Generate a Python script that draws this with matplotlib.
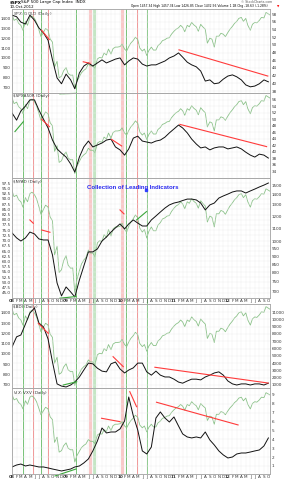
import matplotlib
matplotlib.use("Agg")
import matplotlib.pyplot as plt
import numpy as np
import pandas as pd

# S&P 500 overlay (green), 1st and 15th of each month, Jan 2008 - Oct 2012
spx = [1440, 1380, 1395, 1350, 1330, 1280, 1370, 1330, 1410, 1425, 1400, 1360,
       1285, 1215, 1260, 1298, 1280, 1192, 1160, 908, 966, 800, 816, 870,
       903, 843, 825, 827, 690, 760, 810, 850, 875, 890, 940, 920,
       920, 895, 990, 1005, 1000, 1050, 1030, 1090, 1040, 1095, 1110, 1110,
       1115, 1140, 1090, 1070, 1115, 1150, 1178, 1210, 1186, 1100, 1070, 1090,
       1025, 1075, 1110, 1080, 1080, 1125, 1145, 1175, 1185, 1200, 1205, 1240,
       1270, 1290, 1305, 1330, 1310, 1265, 1330, 1315, 1360, 1335, 1315, 1270,
       1340, 1315, 1290, 1150, 1200, 1190, 1110, 1220, 1220, 1250, 1240, 1215,
       1258, 1290, 1320, 1350, 1370, 1400, 1410, 1370, 1400, 1330, 1280, 1340,
       1360, 1355, 1380, 1410, 1405, 1460, 1445, 1432]

# indicator lines (black), one value per month start
ind_1 = [57.7, 57.3, 55.9, 55.4, 57.7, 56.4, 54.4, 53.1, 51.2, 46.1,
         41.4, 39.9, 42.4, 40.9, 38.6, 42.7, 44.5, 45.3, 44.5, 45.3,
         46.1, 45.3, 45.8, 46.3, 46.6, 44.8, 45.8, 46.6, 46.3, 45.0,
         44.5, 44.8, 44.8, 45.3, 45.8, 46.6, 47.1, 47.9, 46.8, 45.5,
         44.8, 44.3, 43.2, 40.6, 40.9, 39.9, 40.1, 41.1, 41.9, 42.2,
         41.7, 40.9, 39.6, 39.1, 39.3, 39.9, 40.9, 40.4]
ind_2 = [51.9, 49.7, 52.5, 54.0, 55.9, 55.9, 52.8, 50.0, 47.3, 43.6,
         40.9, 39.6, 38.4, 36.3, 33.8, 38.4, 41.5, 43.3, 41.5, 42.1,
         42.7, 43.6, 43.9, 41.5, 40.6, 39.0, 40.9, 44.2, 44.8, 43.3,
         43.0, 42.7, 43.3, 43.6, 44.5, 45.8, 47.0, 48.2, 47.3, 45.8,
         43.9, 42.4, 41.2, 41.5, 40.6, 41.2, 41.5, 41.5, 40.9, 41.2,
         41.5, 40.9, 39.9, 39.0, 38.4, 39.3, 39.0, 38.1]
ind_3 = [73.7, 71.3, 69.8, 71.3, 74.1, 73.2, 70.8, 70.3, 70.3, 63.1,
         49.7, 43.5, 47.8, 45.4, 43.0, 51.1, 57.8, 64.6, 64.6, 66.0,
         69.8, 71.7, 74.1, 76.1, 78.0, 75.6, 78.0, 79.9, 78.4, 77.0,
         77.0, 79.9, 81.8, 83.7, 85.6, 87.1, 88.0, 88.5, 89.2, 89.9,
         89.9, 89.5, 88.0, 84.7, 87.1, 88.0, 90.4, 91.4, 92.3, 93.3,
         93.8, 93.8, 92.8, 93.8, 94.7, 95.7, 96.6, 97.6]
ind_4 = [6200, 7600, 7850, 9350, 10850, 11550, 9500, 8950, 7300, 4150,
         1150, 850, 730, 1000, 1400, 2100, 3050, 4000, 3900, 3300,
         2900, 2800, 3900, 4150, 3200, 2650, 3050, 3350, 4000, 4000,
         2800, 2350, 2900, 2350, 2100, 2100, 1800, 1400, 1250, 1550,
         1800, 1800, 1700, 2100, 2350, 2650, 2800, 2350, 1550, 1150,
         1000, 1150, 1150, 1000, 1150, 1150, 1000, 1250]
ind_5 = [0.89, 1.11, 1.22, 1.0, 1.11, 1.0, 0.89, 0.89, 0.78, 0.66,
         0.55, 0.44, 0.55, 0.66, 0.89, 1.0, 1.34, 1.79, 2.69, 3.81,
         5.27, 4.71, 4.82, 4.82, 5.16, 6.06, 8.75, 6.62, 5.04, 2.69,
         2.35, 3.13, 6.39, 7.07, 6.39, 5.94, 6.51, 5.49, 4.60, 4.26,
         4.15, 4.26, 4.15, 4.82, 3.92, 3.36, 2.69, 2.24, 1.90, 2.01,
         2.35, 2.46, 2.46, 2.57, 2.69, 2.80, 3.25, 4.15]

legend_names = ["$SPX:$GOLD (Daily)", "$SPXA50R (Daily)", "$NYAD (Daily)",
                "$BDI (Daily)", "$VIX:$VXV (Daily)"]

# turning points marked across all panels
green_days = ["2008-03-17", "2008-07-15", "2009-03-09", "2010-02-08", "2010-07-01"]
green_band_days = ["2009-07-10"]
red_days = ["2008-05-19", "2008-08-29", "2010-04-23"]
red_band_days = ["2009-06-12", "2010-01-15"]

# hand drawn trend lines: panel, colour, start, end, start value, end value
trend_lines = [
    (0, "r", "2011-02-04", "2012-09-27", 48.7, 41.9),
    (0, "r", "2008-07-19", "2008-09-09", 53.8, 51.4),
    (0, "r", "2009-04-27", "2009-06-12", 45.6, 45.2),
    (0, "g", "2008-11-20", "2009-03-09", 37.3, 37.4),
    (1, "r", "2011-02-10", "2012-09-19", 48.4, 41.6),
    (1, "r", "2008-07-19", "2008-09-10", 50.0, 47.7),
    (1, "r", "2009-11-05", "2010-01-12", 43.8, 41.8),
    (1, "g", "2008-01-21", "2008-03-17", 46.2, 49.2),
    (2, "r", "2008-05-01", "2008-05-24", 79.9, 78.3),
    (2, "r", "2008-07-19", "2008-09-14", 75.1, 74.0),
    (2, "r", "2010-01-01", "2010-01-28", 84.7, 82.8),
    (2, "g", "2010-04-23", "2010-06-29", 79.9, 83.9),
    (2, "g", "2008-11-20", "2009-03-09", 42.4, 43.2),
    (3, "r", "2008-06-27", "2008-09-02", 9450, 8080),
    (3, "r", "2009-11-15", "2010-01-23", 4880, 3510),
    (3, "r", "2010-08-25", "2012-09-29", 3430, 1270),
    (3, "g", "2008-12-13", "2009-03-14", 1000, 1450),
    (4, "r", "2009-08-29", "2010-01-01", 6.36, 5.98),
    (4, "r", "2010-03-08", "2010-04-23", 9.35, 7.66),
    (4, "r", "2010-09-05", "2012-03-10", 8.16, 5.61),
    (4, "g", "2008-10-18", "2009-03-09", -0.12, 0.66),
]

half_dates = pd.date_range("2008-01-01", periods=len(spx), freq="SMS")
month_dates = pd.date_range("2008-01-01", periods=len(ind_1), freq="MS")
start, end = pd.Timestamp("2008-01-01"), pd.Timestamp("2012-10-12")

BLACK = "#111111"
GREEN = "#8cc28a"
RED_C = {"r": "#ff3b3b", "g": "#3aa63a"}
GRID = "#ececec"
FS = 3

W, H = 286, 480
X0, X1 = 12, 270


def box(top, bottom):
    return [X0 / W, 1 - bottom / H, (X1 - X0) / W, (bottom - top) / H]


fig = plt.figure(figsize=(W / 100, H / 100), dpi=100)

# background layer with the vertical marker lines
bg = fig.add_axes(box(9, 474), zorder=-1)
bg.set_xlim(start, end)
bg.axis("off")
for d in green_band_days:
    bg.axvline(pd.Timestamp(d), color="#c4e6c4", lw=2.2)
for d in red_band_days:
    bg.axvline(pd.Timestamp(d), color="#f9c9c9", lw=2.2)
for d in green_days:
    bg.axvline(pd.Timestamp(d), color="#62b862", lw=0.6)
for d in red_days:
    bg.axvline(pd.Timestamp(d), color="#f07070", lw=0.6)

panels = [
    dict(top=9, bottom=93, ind=ind_1, b_lim=(37.5, 59.3), b_ticks=np.arange(38, 59, 2),
         b_fmt="{:.0f}", b_side="right", g_lim=(646, 1495), g_log=False,
         g_ticks=np.arange(700, 1500, 100)),
    dict(top=93, bottom=178, ind=ind_2, b_lim=(32.0, 58.0), b_ticks=np.arange(34, 57, 2),
         b_fmt="{:.0f}", b_side="right", g_lim=(646, 1485), g_log=False, g_ticks=[]),
    dict(top=178, bottom=298, ind=ind_3, b_lim=(42.5, 100.0), b_ticks=np.arange(45, 99, 2.5),
         b_fmt="{:.1f}", b_side="left", g_lim=(666, 1578), g_log=True,
         g_ticks=[700, 750, 800, 850, 900, 950, 1000, 1100, 1200, 1300, 1400, 1500]),
    dict(top=304, bottom=388, ind=ind_4, b_lim=(589, 12097), b_ticks=np.arange(1000, 11001, 1000),
         b_fmt="{:.0f}", b_side="right", g_lim=(666, 1486), g_log=False,
         g_ticks=np.arange(700, 1500, 100)),
    dict(top=388, bottom=474, ind=ind_5, b_lim=(0.10, 9.76), b_ticks=np.arange(1, 10, 1),
         b_fmt="{:.0f}", b_side="right", g_lim=(557, 1512), g_log=False, g_ticks=[]),
]

month_ticks = pd.date_range("2008-01-01", "2012-10-01", freq="MS")
month_labels = [d.strftime("%y") if d.month == 1 else d.strftime("%b")[0] for d in month_ticks]

black_axes = []
for i, p in enumerate(panels):
    ax_g = fig.add_axes(box(p["top"], p["bottom"]))
    ax_g.patch.set_visible(False)
    ax_g.plot(half_dates, spx, color=GREEN, lw=0.6)
    if p["g_log"]:
        ax_g.set_yscale("log")
    ax_g.set_ylim(*p["g_lim"])
    ax_g.set_xlim(start, end)
    ax_g.set_yticks(p["g_ticks"])
    ax_g.set_yticklabels([f"{t:.0f}" for t in p["g_ticks"]])
    ax_g.yaxis.set_minor_locator(matplotlib.ticker.NullLocator())
    ax_g.set_xticks(month_ticks)
    ax_g.grid(axis="x", color=GRID, lw=0.3)

    ax_b = ax_g.twinx()
    ax_b.plot(month_dates, p["ind"], color=BLACK, lw=0.7)
    ax_b.set_ylim(*p["b_lim"])
    ax_b.set_xlim(start, end)
    ax_b.set_yticks(p["b_ticks"])
    ax_b.set_yticklabels([p["b_fmt"].format(t) for t in p["b_ticks"]])
    ax_b.grid(axis="y", color=GRID, lw=0.3)
    if p["b_side"] == "left":
        ax_b.yaxis.tick_left()
        ax_g.yaxis.tick_right()
    else:
        ax_b.yaxis.tick_right()
        ax_g.yaxis.tick_left()

    for a in (ax_g, ax_b):
        a.tick_params(axis="both", length=0, labelsize=FS, pad=1, colors="#333333")
        for s in a.spines.values():
            s.set_color("#a8a8a8")
            s.set_linewidth(0.5)

    if i in (2, 4):
        ax_g.set_xticklabels(month_labels)
        for lab in ax_g.get_xticklabels():
            if lab.get_text().isdigit():
                lab.set_fontweight("bold")
    else:
        ax_g.set_xticklabels([])
    ax_b.tick_params(axis="x", labelbottom=False)

    ax_g.text(0.004, 0.985, legend_names[i], transform=ax_g.transAxes,
              fontsize=FS, va="top", ha="left", color="#333333")
    black_axes.append(ax_b)

for panel, c, d0, d1, v0, v1 in trend_lines:
    black_axes[panel].plot([pd.Timestamp(d0), pd.Timestamp(d1)], [v0, v1],
                           color=RED_C[c], lw=0.8, clip_on=False)

black_axes[2].plot([pd.Timestamp("2010-06-29")], [94.3], marker="s", ms=1.6,
                   color="#3040ff", ls="none")

# header
fig.text(10 / W, 1 - 2.5 / H, "$SPX", fontsize=3.0, fontweight="bold", va="center")
fig.text(21 / W, 1 - 2.5 / H, "S&P 500 Large Cap Index  INDX", fontsize=3.0, va="center")
fig.text(10 / W, 1 - 6.5 / H, "10-Oct-2012", fontsize=2.8, va="center")
fig.text(131 / W, 1 - 6.2 / H,
         "Open 1457.34 High 1457.34 Low 1426.85 Close 1432.56 Volume 1.1B Chg -18.63 (-1.28%)",
         fontsize=2.2, va="center")
fig.text(277 / W, 1 - 6.2 / H, "\u25bc", fontsize=2.2, color="red", va="center")
fig.text(272 / W, 1 - 1.8 / H, "\u00a9 StockCharts.com", fontsize=2.3, va="center", ha="right",
         color="#555555")
fig.text(132.5 / W, 1 - 187.5 / H, "Collection of Leading Indicators", fontsize=4.3,
         fontweight="bold", color="#2a2af0", ha="center", va="center",
         family="Liberation Sans")

fig.savefig("out.png", dpi=100)
